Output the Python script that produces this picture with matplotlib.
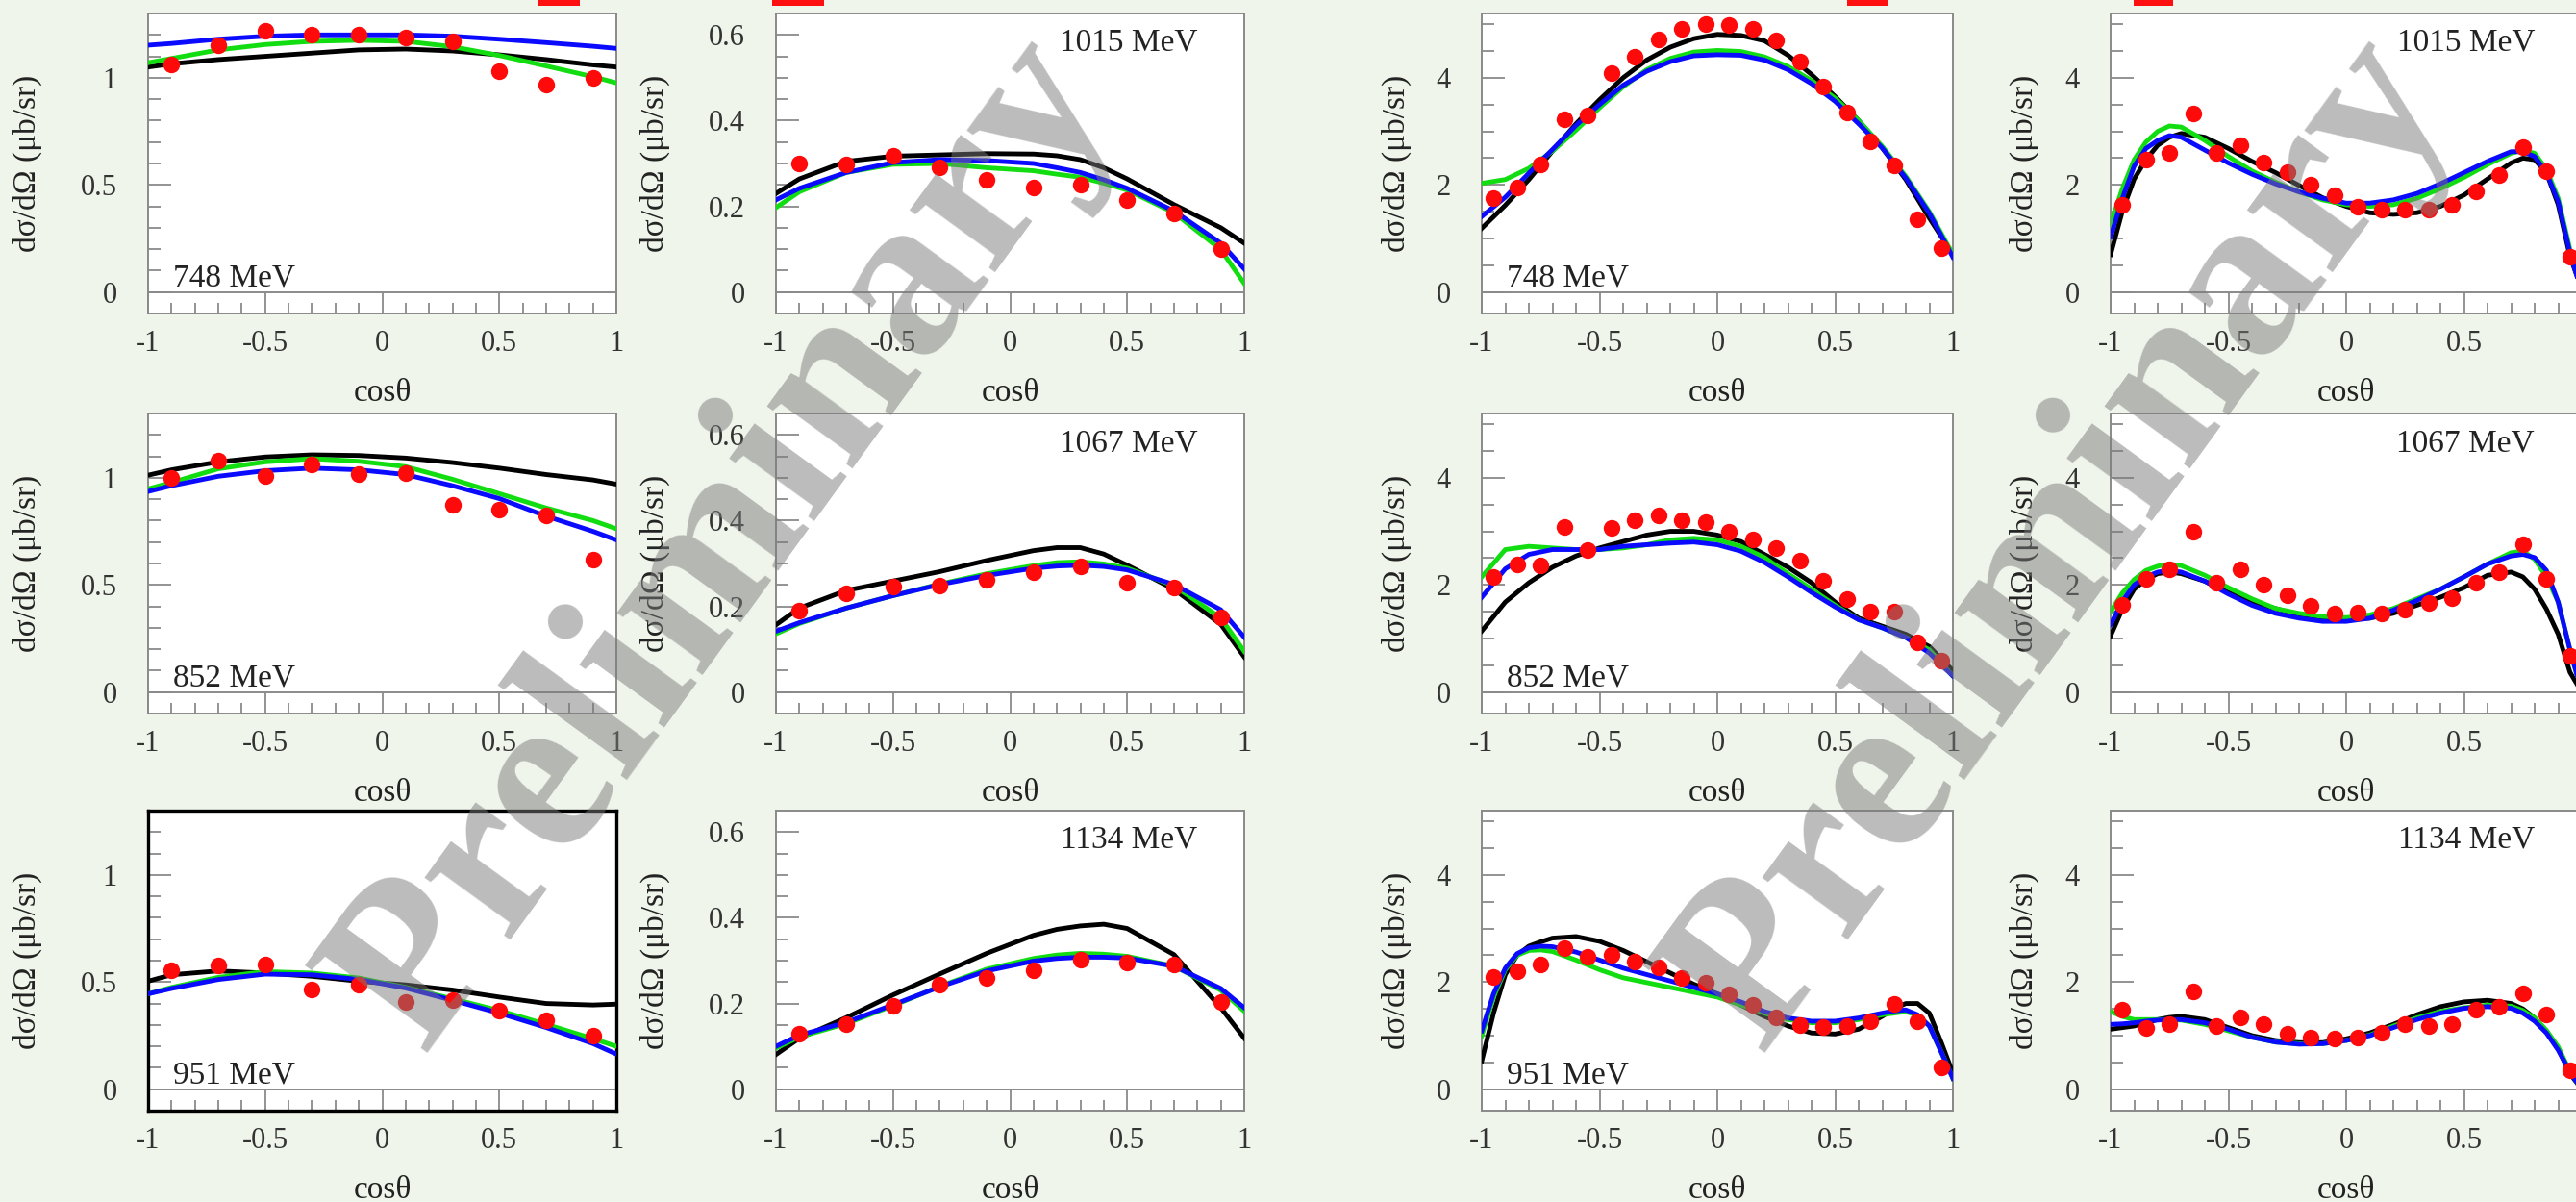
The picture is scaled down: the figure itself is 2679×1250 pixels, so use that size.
# Angular distributions dsigma/dOmega vs cos(theta), 4 columns x 3 rows,
# data (red dots) compared with three model curves (black, green, blue)

import matplotlib.pyplot as plt
from matplotlib.patches import Rectangle

plt.rcParams['font.family'] = ['Liberation Serif', 'DejaVu Serif']
plt.rcParams['axes.unicode_minus'] = False

# ---- data: cos(theta) bins ----
cos10 = [-0.9, -0.7, -0.5, -0.3, -0.1, 0.1, 0.3, 0.5, 0.7, 0.9]
cos20 = [-0.95, -0.85, -0.75, -0.65, -0.55, -0.45, -0.35, -0.25, -0.15, -0.05,
         0.05, 0.15, 0.25, 0.35, 0.45, 0.55, 0.65, 0.75, 0.85, 0.95]

# model curves are read at these cos(theta) values
xc1 = [-1, -0.9, -0.7, -0.5, -0.3, -0.1, 0.1, 0.3, 0.5, 0.7, 0.9, 1.0]
xc2 = [-1, -0.9, -0.7, -0.5, -0.3, -0.1, 0.1, 0.2, 0.3, 0.4, 0.5, 0.7, 0.9, 1.0]
xc3 = [-1, -0.9, -0.8, -0.7, -0.6, -0.5, -0.4, -0.3, -0.2, -0.1, 0,
       0.1, 0.2, 0.3, 0.4, 0.5, 0.6, 0.7, 0.8, 0.9, 1.0]
xc4 = [-1, -0.95, -0.9, -0.85, -0.8, -0.75, -0.7, -0.6, -0.5, -0.4, -0.3, -0.2,
       -0.1, 0, 0.1, 0.2, 0.3, 0.4, 0.5, 0.6, 0.7, 0.75, 0.8, 0.85, 0.9, 0.95, 1.0]

# column 1
pts_748a = [1.06, 1.15, 1.22, 1.20, 1.20, 1.19, 1.17, 1.03, 0.97, 1.00]
blk_748a = [1.05, 1.065, 1.085, 1.10, 1.115, 1.13, 1.134, 1.125, 1.107, 1.085, 1.06, 1.05]
grn_748a = [1.07, 1.09, 1.13, 1.155, 1.17, 1.175, 1.17, 1.145, 1.104, 1.055, 1.005, 0.976]
blu_748a = [1.152, 1.16, 1.18, 1.194, 1.20, 1.20, 1.20, 1.194, 1.18, 1.164, 1.147, 1.137]

pts_852a = [1.00, 1.082, 1.01, 1.062, 1.018, 1.022, 0.873, 0.851, 0.824, 0.616]
blk_852a = [1.012, 1.037, 1.074, 1.097, 1.107, 1.104, 1.092, 1.071, 1.045, 1.015, 0.99, 0.97]
grn_852a = [0.948, 0.978, 1.042, 1.074, 1.089, 1.077, 1.052, 0.993, 0.926, 0.859, 0.80, 0.762]
blu_852a = [0.936, 0.963, 1.007, 1.033, 1.045, 1.037, 1.015, 0.963, 0.903, 0.821, 0.75, 0.71]

pts_951a = [0.557, 0.576, 0.584, 0.467, 0.487, 0.407, 0.418, 0.367, 0.322, 0.248]
blk_951a = [0.504, 0.534, 0.552, 0.542, 0.527, 0.504, 0.487, 0.463, 0.43, 0.40, 0.393, 0.397]
grn_951a = [0.445, 0.475, 0.522, 0.549, 0.542, 0.519, 0.475, 0.422, 0.367, 0.303, 0.236, 0.20]
blu_951a = [0.445, 0.47, 0.512, 0.537, 0.534, 0.512, 0.472, 0.415, 0.355, 0.288, 0.213, 0.164]

# column 2
pts_1015a = [0.299, 0.298, 0.317, 0.29, 0.262, 0.243, 0.25, 0.215, 0.183, 0.10]
blk_1015a = [0.23, 0.264, 0.305, 0.317, 0.32, 0.323, 0.322, 0.318, 0.309, 0.29, 0.264, 0.204, 0.15, 0.114]
grn_1015a = [0.197, 0.234, 0.279, 0.298, 0.30, 0.29, 0.283, 0.275, 0.268, 0.254, 0.238, 0.185, 0.099, 0.02]
blu_1015a = [0.215, 0.242, 0.279, 0.302, 0.309, 0.307, 0.30, 0.29, 0.279, 0.262, 0.242, 0.189, 0.114, 0.054]

pts_1067a = [0.19, 0.231, 0.246, 0.249, 0.261, 0.279, 0.293, 0.255, 0.244, 0.175]
blk_1067a = [0.157, 0.196, 0.237, 0.259, 0.281, 0.307, 0.33, 0.337, 0.337, 0.322, 0.296, 0.24, 0.158, 0.082]
grn_1067a = [0.136, 0.16, 0.196, 0.225, 0.252, 0.276, 0.295, 0.302, 0.304, 0.299, 0.289, 0.248, 0.173, 0.095]
blu_1067a = [0.142, 0.162, 0.196, 0.225, 0.251, 0.272, 0.289, 0.294, 0.296, 0.293, 0.285, 0.251, 0.192, 0.128]

pts_1134a = [0.13, 0.152, 0.194, 0.245, 0.26, 0.278, 0.302, 0.295, 0.291, 0.203]
blk_1134a = [0.081, 0.119, 0.167, 0.22, 0.269, 0.317, 0.359, 0.373, 0.381, 0.385, 0.375, 0.314, 0.19, 0.119]
grn_1134a = [0.096, 0.122, 0.153, 0.195, 0.24, 0.28, 0.305, 0.313, 0.317, 0.315, 0.31, 0.287, 0.231, 0.182]
blu_1134a = [0.10, 0.126, 0.156, 0.197, 0.239, 0.276, 0.299, 0.305, 0.308, 0.308, 0.306, 0.287, 0.235, 0.19]

# column 3
pts_748b = [1.75, 1.95, 2.38, 3.23, 3.29, 4.09, 4.39, 4.72, 4.91, 5.01,
            4.99, 4.92, 4.69, 4.31, 3.84, 3.35, 2.81, 2.37, 1.35, 0.82]
blk_748b = [1.19, 1.62, 2.10, 2.63, 3.14, 3.59, 4.00, 4.33, 4.57, 4.73, 4.81,
            4.79, 4.69, 4.42, 4.06, 3.65, 3.20, 2.69, 2.10, 1.38, 0.70]
grn_748b = [2.03, 2.10, 2.31, 2.63, 3.02, 3.44, 3.83, 4.15, 4.36, 4.48, 4.51,
            4.49, 4.39, 4.21, 3.95, 3.62, 3.20, 2.72, 2.16, 1.50, 0.70]
blu_748b = [1.41, 1.77, 2.22, 2.66, 3.11, 3.50, 3.86, 4.12, 4.30, 4.41, 4.43,
            4.42, 4.33, 4.15, 3.89, 3.56, 3.14, 2.69, 2.13, 1.47, 0.65]

pts_852b = [2.15, 2.38, 2.36, 3.08, 2.66, 3.07, 3.20, 3.29, 3.20, 3.17,
            3.00, 2.84, 2.68, 2.45, 2.07, 1.73, 1.51, 1.50, 0.93, 0.58]
blk_852b = [1.14, 1.68, 2.04, 2.33, 2.54, 2.69, 2.81, 2.93, 3.00, 3.00, 2.93,
            2.81, 2.57, 2.33, 2.04, 1.68, 1.38, 1.23, 1.08, 0.85, 0.40]
grn_852b = [2.15, 2.66, 2.72, 2.69, 2.66, 2.66, 2.69, 2.75, 2.84, 2.87, 2.84,
            2.72, 2.51, 2.21, 1.92, 1.62, 1.35, 1.20, 1.02, 0.79, 0.30]
blu_852b = [1.77, 2.30, 2.57, 2.66, 2.66, 2.66, 2.72, 2.75, 2.78, 2.80, 2.75,
            2.63, 2.42, 2.15, 1.86, 1.59, 1.35, 1.20, 1.02, 0.73, 0.30]

pts_951b = [2.09, 2.20, 2.32, 2.64, 2.47, 2.51, 2.39, 2.27, 2.07, 1.99,
            1.78, 1.57, 1.35, 1.19, 1.17, 1.18, 1.27, 1.59, 1.27, 0.41]
blk_951b = [0.53, 1.42, 2.14, 2.50, 2.67, 2.75, 2.82, 2.85, 2.76, 2.59, 2.38, 2.17, 1.96, 1.78,
            1.57, 1.36, 1.18, 1.05, 1.03, 1.12, 1.36, 1.50, 1.60, 1.60, 1.42, 0.88, 0.30]
grn_951b = [1.00, 1.72, 2.23, 2.50, 2.59, 2.60, 2.57, 2.41, 2.23, 2.08, 1.99, 1.90, 1.81, 1.72,
            1.57, 1.42, 1.30, 1.24, 1.24, 1.30, 1.39, 1.42, 1.45, 1.38, 1.18, 0.70, 0.20]
blu_951b = [1.09, 1.78, 2.26, 2.53, 2.64, 2.67, 2.66, 2.56, 2.41, 2.26, 2.14, 2.02, 1.90, 1.78,
            1.63, 1.45, 1.33, 1.27, 1.27, 1.33, 1.42, 1.46, 1.48, 1.39, 1.18, 0.70, 0.20]

# column 4
pts_1015b = [1.63, 2.47, 2.59, 3.34, 2.59, 2.74, 2.42, 2.23, 2.00, 1.80,
             1.60, 1.54, 1.54, 1.54, 1.63, 1.88, 2.18, 2.71, 2.26, 0.65]
blk_1015b = [0.70, 1.51, 2.11, 2.47, 2.74, 2.89, 2.96, 2.89, 2.68, 2.44, 2.23, 1.99, 1.76, 1.60,
             1.48, 1.45, 1.48, 1.60, 1.81, 2.11, 2.41, 2.50, 2.47, 2.23, 1.63, 0.67, 0.05]
grn_1015b = [1.27, 1.93, 2.47, 2.80, 3.00, 3.10, 3.08, 2.83, 2.53, 2.26, 2.05, 1.87, 1.72, 1.63,
             1.60, 1.63, 1.75, 1.93, 2.14, 2.38, 2.59, 2.65, 2.59, 2.29, 1.75, 0.79, 0.0]
blu_1015b = [1.03, 1.75, 2.35, 2.68, 2.83, 2.92, 2.89, 2.65, 2.41, 2.20, 2.02, 1.87, 1.75, 1.66,
             1.66, 1.72, 1.84, 2.02, 2.23, 2.44, 2.62, 2.62, 2.53, 2.23, 1.69, 0.73, 0.0]

pts_1067b = [1.62, 2.11, 2.29, 3.00, 2.04, 2.29, 2.01, 1.81, 1.61, 1.47,
             1.49, 1.47, 1.54, 1.67, 1.75, 2.04, 2.23, 2.76, 2.11, 0.67]
blk_1067b = [1.05, 1.55, 1.92, 2.10, 2.21, 2.24, 2.21, 2.07, 1.86, 1.68, 1.56, 1.44, 1.38, 1.35,
             1.38, 1.47, 1.62, 1.77, 1.95, 2.18, 2.24, 2.15, 1.92, 1.55, 1.08, 0.37, 0.0]
grn_1067b = [1.50, 1.85, 2.10, 2.27, 2.35, 2.39, 2.36, 2.18, 1.95, 1.74, 1.56, 1.47, 1.41, 1.39,
             1.44, 1.56, 1.74, 1.92, 2.15, 2.39, 2.60, 2.63, 2.48, 2.15, 1.68, 0.79, 0.0]
blu_1067b = [1.26, 1.70, 2.00, 2.15, 2.24, 2.27, 2.24, 2.07, 1.83, 1.62, 1.47, 1.38, 1.32, 1.32,
             1.38, 1.53, 1.71, 1.92, 2.15, 2.39, 2.54, 2.57, 2.51, 2.27, 1.68, 0.79, 0.0]

pts_1134b = [1.49, 1.15, 1.21, 1.83, 1.18, 1.35, 1.21, 1.03, 0.96, 0.94,
             0.97, 1.06, 1.21, 1.18, 1.21, 1.48, 1.54, 1.79, 1.39, 0.36]
blk_1134b = [1.12, 1.15, 1.18, 1.24, 1.30, 1.34, 1.36, 1.30, 1.15, 1.00, 0.91, 0.87, 0.87, 0.94,
             1.05, 1.21, 1.39, 1.54, 1.63, 1.66, 1.60, 1.50, 1.33, 1.08, 0.76, 0.29, 0.0]
grn_1134b = [1.45, 1.36, 1.30, 1.30, 1.30, 1.30, 1.29, 1.21, 1.09, 0.97, 0.88, 0.85, 0.85, 0.91,
             1.01, 1.18, 1.33, 1.45, 1.52, 1.57, 1.55, 1.47, 1.33, 1.10, 0.79, 0.33, 0.0]
blu_1134b = [1.21, 1.22, 1.24, 1.27, 1.29, 1.30, 1.30, 1.24, 1.12, 0.97, 0.88, 0.84, 0.85, 0.91,
             1.00, 1.15, 1.30, 1.42, 1.51, 1.54, 1.51, 1.42, 1.27, 1.05, 0.73, 0.32, 0.0]

energy_a = ['748 MeV', '852 MeV', '951 MeV']
energy_b = ['1015 MeV', '1067 MeV', '1134 MeV']

# (col, row, label, points x, points y, curve x, black, green, blue)
panels = [
    (0, 0, energy_a[0], cos10, pts_748a, xc1, blk_748a, grn_748a, blu_748a),
    (0, 1, energy_a[1], cos10, pts_852a, xc1, blk_852a, grn_852a, blu_852a),
    (0, 2, energy_a[2], cos10, pts_951a, xc1, blk_951a, grn_951a, blu_951a),
    (1, 0, energy_b[0], cos10, pts_1015a, xc2, blk_1015a, grn_1015a, blu_1015a),
    (1, 1, energy_b[1], cos10, pts_1067a, xc2, blk_1067a, grn_1067a, blu_1067a),
    (1, 2, energy_b[2], cos10, pts_1134a, xc2, blk_1134a, grn_1134a, blu_1134a),
    (2, 0, energy_a[0], cos20, pts_748b, xc3, blk_748b, grn_748b, blu_748b),
    (2, 1, energy_a[1], cos20, pts_852b, xc3, blk_852b, grn_852b, blu_852b),
    (2, 2, energy_a[2], cos20, pts_951b, xc4, blk_951b, grn_951b, blu_951b),
    (3, 0, energy_b[0], cos20, pts_1015b, xc4, blk_1015b, grn_1015b, blu_1015b),
    (3, 1, energy_b[1], cos20, pts_1067b, xc4, blk_1067b, grn_1067b, blu_1067b),
    (3, 2, energy_b[2], cos20, pts_1134b, xc4, blk_1134b, grn_1134b, blu_1134b),
]

# y axis setup per column: limits, major ticks, minor ticks
ylims = [(-0.1, 1.3), (-0.05, 0.65), (-0.4, 5.2), (-0.4, 5.2)]
ymajor = [[0, 0.5, 1], [0, 0.2, 0.4, 0.6], [0, 2, 4], [0, 2, 4]]
yminor = [[0.1, 0.2, 0.3, 0.4, 0.6, 0.7, 0.8, 0.9, 1.1, 1.2],
          [0.05, 0.1, 0.15, 0.25, 0.3, 0.35, 0.45, 0.5, 0.55],
          [0.5, 1, 1.5, 2.5, 3, 3.5, 4.5, 5],
          [0.5, 1, 1.5, 2.5, 3, 3.5, 4.5, 5]]
xmajor = [-1, -0.5, 0, 0.5, 1]
xminor = [-0.9, -0.8, -0.7, -0.6, -0.4, -0.3, -0.2, -0.1,
          0.1, 0.2, 0.3, 0.4, 0.6, 0.7, 0.8, 0.9]

W, H = 2679, 1250
col_left = [154, 807, 1541, 2195]
col_w = [487, 487, 490, 490]
row_top = [14, 430, 843]
row_h = 312
ylab_x = [-0.225, -0.225, -0.15, -0.152]

fig = plt.figure(figsize=(W / 100, H / 100), dpi=100)
fig.patch.set_facecolor('#eff5ea')

frame = '#8a8a8a'
for col, row, label, px, py, cx, blk, grn, blu in panels:
    ax = fig.add_axes([col_left[col] / W, 1 - (row_top[row] + row_h) / H,
                       col_w[col] / W, row_h / H])
    ax.set_facecolor('white')
    ax.axhline(0, color=frame, lw=1.4, zorder=1)
    ax.plot(cx, blk, color='black', lw=3.5, zorder=3)
    ax.plot(cx, grn, color='#11dd11', lw=3.5, zorder=3)
    ax.plot(cx, blu, color='#0a0aff', lw=3.5, zorder=3)
    ax.plot(px, py, 'o', color='#ff0a0a', ms=12.5, mec='none', zorder=4)

    ax.set_xlim(-1, 1)
    ax.set_ylim(*ylims[col])
    ax.set_xticks(xmajor)
    ax.set_xticks(xminor, minor=True)
    ax.set_xticklabels(['-1', '-0.5', '0', '0.5', '1'])
    ax.set_yticks(ymajor[col])
    ax.set_yticks(yminor[col], minor=True)
    ax.set_yticklabels([('%g' % v) for v in ymajor[col]])
    ax.tick_params(which='both', direction='in', color=frame, width=1.3,
                   labelsize=22, labelcolor='#333333', top=False, right=False)
    ax.tick_params(axis='x', which='major', length=16, pad=12)
    ax.tick_params(axis='x', which='minor', length=8)
    ax.tick_params(axis='y', which='major', length=17, pad=23)
    ax.tick_params(axis='y', which='minor', length=9)

    for sp in ax.spines.values():
        sp.set_color(frame)
        sp.set_linewidth(1.4)
    if col == 0 and row == 2:
        for sp in ax.spines.values():
            sp.set_color('black')
            sp.set_linewidth(2.4)

    ax.set_xlabel('cosθ', fontsize=24, color='#222222')
    ax.xaxis.set_label_coords(0.5, -0.215)
    ax.set_ylabel('dσ/dΩ (μb/sr)', fontsize=24, color='#222222')
    ax.yaxis.set_label_coords(ylab_x[col], 0.5)

    if col in (0, 2):
        ax.text(0.053, 0.09, label, transform=ax.transAxes, fontsize=24,
                ha='left', va='baseline', color='#222222', zorder=5)
    else:
        ax.text(0.9, 0.875, label, transform=ax.transAxes, fontsize=24,
                ha='right', va='baseline', color='#222222', zorder=5)

# watermark
for xc in (0.282, 0.801):
    fig.text(xc, 0.548, 'Preliminary', fontsize=172, fontweight='bold',
             rotation=54, rotation_mode='anchor', ha='center', va='center',
             color='#7a7a7a', alpha=0.5, zorder=10)

# bits of the red slide titles cut off at the top edge
for x0, x1 in [(559, 603), (803, 857), (1921, 1964), (2219, 2260)]:
    fig.add_artist(Rectangle((x0 / W, 1 - 6 / H), (x1 - x0) / W, 6 / H,
                             transform=fig.transFigure, color='#ff1010', lw=0))

fig.savefig('out.png', dpi=100, facecolor=fig.get_facecolor())
